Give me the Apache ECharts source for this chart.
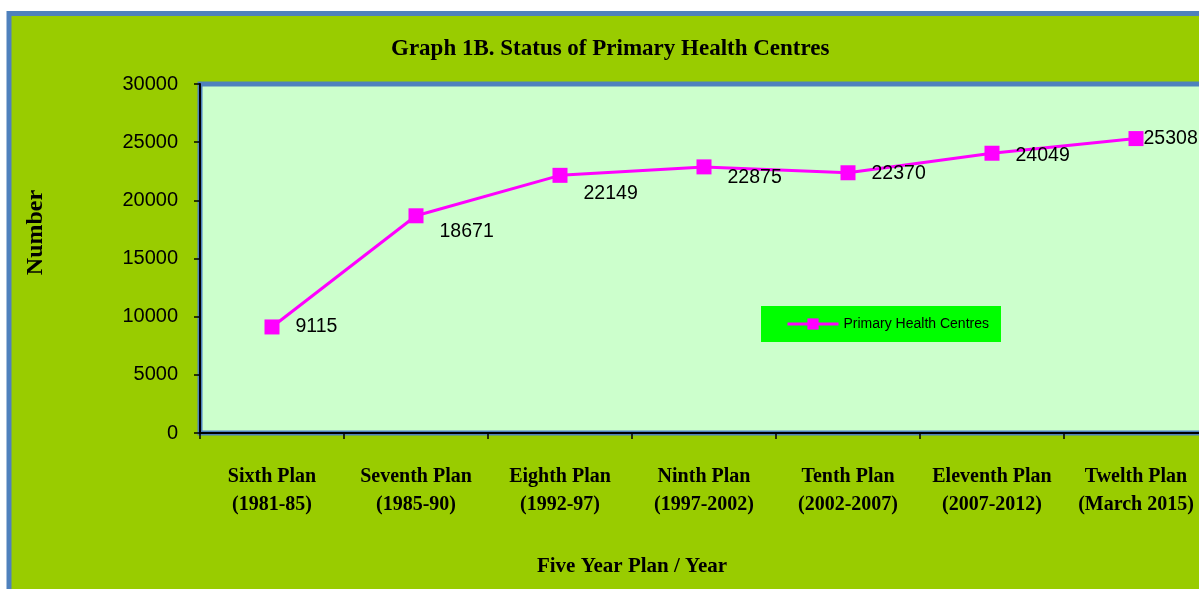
<!DOCTYPE html>
<html>
<head>
<meta charset="utf-8">
<script src="https://cdn.jsdelivr.net/npm/echarts@6/dist/echarts.min.js"></script>
<style>
html,body{margin:0;padding:0;background:#fff;}
#c{width:1199px;height:589px;}
</style>
</head>
<body>
<div id="c"></div>
<script>
var categories = [
  'Sixth Plan\n(1981-85)',
  'Seventh Plan\n(1985-90)',
  'Eighth Plan\n(1992-97)',
  'Ninth Plan\n(1997-2002)',
  'Tenth Plan\n(2002-2007)',
  'Eleventh Plan\n(2007-2012)',
  'Twelth Plan\n(March 2015)'
];
var phcValues = [9115, 18671, 22149, 22875, 22370, 24049, 25308];
var seriesName = 'Primary Health Centres';
var yTicks = { min: 0, max: 30000, interval: 5000 };

var labelOffsets = [[0, 0], [0, 16], [0, 18], [0, 11], [0, 1], [0, 2], [-16, 0]];
var serif = '"Liberation Serif","Times New Roman",serif';
var sans = '"Liberation Sans",Arial,sans-serif';

var chart = echarts.init(document.getElementById('c'));
chart.setOption({
  backgroundColor: '#ffffff',
  animation: false,
  graphic: [{
    type: 'rect', z: -10, silent: true,
    shape: { x: 9, y: 13.5, width: 1400, height: 800 },
    style: { fill: '#99CC00', stroke: '#4F81BD', lineWidth: 5 }
  }],
  title: {
    text: 'Graph 1B. Status of Primary Health Centres',
    left: 386, top: 33,
    textStyle: { fontFamily: serif, fontWeight: 'bold', fontSize: 23, color: '#000' }
  },
  legend: {
    left: 761, top: 306,
    backgroundColor: '#00FF00',
    padding: [11, 12, 11, 25],
    itemWidth: 51, itemHeight: 14, itemGap: 4,
    lineStyle: { width: 3 },
    textStyle: { fontFamily: sans, fontSize: 14, color: '#000' },
    data: [seriesName]
  },
  grid: {
    left: 200, width: 1008, top: 84, bottom: 156,
    containLabel: false, outerBoundsMode: 'none',
    show: true, backgroundColor: '#CCFFCC', borderColor: '#4F81BD', borderWidth: 5
  },
  xAxis: {
    type: 'category', data: categories, boundaryGap: true,
    axisLine: { show: true, lineStyle: { color: '#000', width: 2 } },
    axisTick: { show: true, length: 6, lineStyle: { color: '#000', width: 1.5 } },
    axisLabel: { interval: 0, margin: 30, fontFamily: serif, fontWeight: 'bold', fontSize: 20, lineHeight: 28, color: '#000' },
    splitLine: { show: false },
    name: 'Five Year Plan / Year', nameLocation: 'middle', nameGap: 123,
    nameTextStyle: { fontFamily: serif, fontWeight: 'bold', fontSize: 21, color: '#000', padding: [0, 144, 0, 0] }
  },
  yAxis: {
    type: 'value', min: yTicks.min, max: yTicks.max, interval: yTicks.interval,
    axisLine: { show: true, lineStyle: { color: '#000', width: 2 } },
    axisTick: { show: true, length: 6, lineStyle: { color: '#000', width: 1.5 } },
    axisLabel: { margin: 22, fontFamily: sans, fontSize: 20, color: '#000', formatter: function (v) { return String(v); } },
    splitLine: { show: false },
    name: 'Number', nameLocation: 'middle', nameRotate: 90, nameGap: 152,
    nameTextStyle: { fontFamily: serif, fontWeight: 'bold', fontSize: 24, color: '#000', padding: [0, 0, 0, 52] }
  },
  series: [{
    name: seriesName, type: 'line',
    data: phcValues.map(function (v, i) {
      return { value: v, label: { offset: labelOffsets[i] } };
    }),
    symbol: 'rect', symbolSize: 15,
    lineStyle: { color: '#FF00FF', width: 3 },
    itemStyle: { color: '#FF00FF' },
    label: { show: true, position: 'right', distance: 16, fontFamily: sans, fontSize: 19.5, color: '#000' }
  }]
});
</script>
</body>
</html>
